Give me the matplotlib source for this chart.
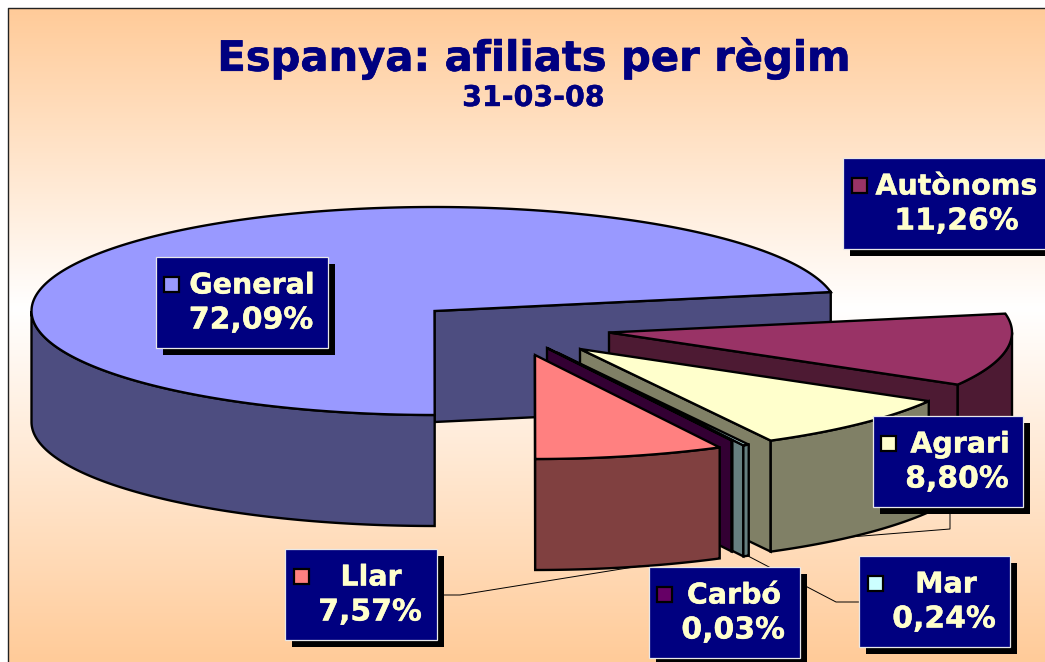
import numpy as np
import matplotlib
matplotlib.use('Agg')
import matplotlib.pyplot as plt
import matplotlib.patheffects as pe
from matplotlib.colors import LinearSegmentedColormap
from matplotlib.patches import Polygon, Rectangle

# slices in drawing order round the pie, starting from the right hand side
regims = ['General', 'Llar', 'Carbó', 'Mar', 'Agrari', 'Autònoms']
percents = [72.09, 7.57, 0.03, 0.24, 8.80, 11.26]
percent_labels = ['72,09%', '7,57%', '0,03%', '0,24%', '8,80%', '11,26%']

top_colors = ['#9999FF', '#FF8080', '#660066', '#CCFFFF', '#FFFFCC', '#993366']
side_colors = ['#4D4D80', '#804040', '#330033', '#668080', '#808066', '#4D1A33']

# how far each slice is pulled out of the pie, in pixels
explode = [(0, 0), (100.5, 44), (112.5, 37), (123.5, 42), (145.5, 38), (174.5, 21.5)]

start_angle = 10.5
cx, cy = 434.5, 311
rx, ry = 403, 104
depth = 111

# label box: left, top, right, bottom, name centre x, percent centre x
boxes = {
    'General': (155.5, 257, 328, 348, 252, 251),
    'Llar': (285, 549, 437, 640, 371, 370),
    'Carbó': (648.5, 567, 800, 658, 734, 733),
    'Mar': (859, 556, 1010, 647, 946, 944),
    'Agrari': (872.5, 416, 1023, 507, 960, 957),
    'Autònoms': (843, 158, 1046, 249, 956.5, 956.5),
}

leaders = [
    [(437, 595), (460, 595), (640, 566)],
    [(748, 556), (836, 602), (860, 602)],
    [(950, 510), (950, 529), (850, 537)],
]

NAVY = '#000080'
CREAM = '#FFFFCC'


def rim(a, ox, oy, dy=0):
    a = np.radians(a)
    return np.column_stack([cx + ox + rx * np.cos(a), cy + oy - ry * np.sin(a) + dy])


def draw_slice(ax, a1, a2, off, top, side):
    ox, oy = off
    apex = np.array([cx + ox, cy + oy])
    lower = np.array([0, depth])
    # cut faces, only the ones turned to the viewer
    for ang, normal in ((a1, a1 - 90), (a2, a2 + 90)):
        if np.sin(np.radians(normal)) < -1e-6:
            p = rim(np.array([ang]), ox, oy)[0]
            ax.add_patch(Polygon([apex, p, p + lower, apex + lower], closed=True,
                                 fc=side, ec='black', lw=1.7, joinstyle='miter'))
    # outer wall, front half of the ellipse only
    for lo, hi in ((180, 360), (540, 720)):
        b1, b2 = max(a1, lo), min(a2, hi)
        if b2 > b1:
            angs = np.linspace(b1, b2, 120)
            up = rim(angs, ox, oy)
            down = rim(angs[::-1], ox, oy, depth)
            ax.add_patch(Polygon(np.vstack([up, down]), closed=True,
                                 fc=side, ec='black', lw=1.7, joinstyle='miter'))
    angs = np.linspace(a1, a2, 240)
    pts = np.vstack([apex, rim(angs, ox, oy)])
    ax.add_patch(Polygon(pts, closed=True, fc=top, ec='black', lw=1.7, joinstyle='miter'))


def heavy(color, w=0.3):
    return [pe.withStroke(linewidth=w, foreground=color)]


fig = plt.figure(figsize=(10.45, 6.62), dpi=100)
ax = fig.add_axes([0, 0, 1, 1])
ax.axis('off')

cmap = LinearSegmentedColormap.from_list('bg', [(0, '#FFCB99'), (0.46, '#FFFFFF'), (1, '#FFCB99')])
grad = np.linspace(0, 1, 256).reshape(-1, 1)
ax.imshow(grad, cmap=cmap, extent=(7.5, 1045, 662, 8), aspect='auto', zorder=0)
ax.set_xlim(0, 1045)
ax.set_ylim(662, 0)
ax.plot([7.5, 7.5, 1045], [662, 8, 8], color='#222222', lw=1, zorder=1)

for line in leaders:
    xs, ys = zip(*line)
    ax.plot(xs, ys, color='black', lw=0.7, zorder=2)

angles = start_angle + np.cumsum([0] + percents) * 3.6
# back to front
for i in [0, 5, 4, 3, 2, 1]:
    draw_slice(ax, angles[i], angles[i + 1], explode[i], top_colors[i], side_colors[i])

for i, name in enumerate(regims):
    x0, y0, x1, y1, tx, px = boxes[name]
    ax.add_patch(Rectangle((x0 + 7, y0 + 7), x1 - x0, y1 - y0, fc='black', ec='none', zorder=5))
    ax.add_patch(Rectangle((x0, y0), x1 - x0, y1 - y0, fc=NAVY, ec='#E8E8E8', lw=0.9, zorder=6))
    ax.add_patch(Rectangle((x0 + 8.5, y0 + 19.5), 15, 15, fc=top_colors[i], ec='black', lw=1.6, zorder=7))
    ax.text(tx, y0 + 28.5, name, color=CREAM, fontsize=20.5, fontweight='bold',
            ha='center', va='center', zorder=7, path_effects=heavy(CREAM))
    ax.text(px, y0 + 63, percent_labels[i], color=CREAM, fontsize=21.5, fontweight='bold',
            ha='center', va='center', zorder=7, path_effects=heavy(CREAM))

ax.text(533.5, 58, 'Espanya: afiliats per règim', color=NAVY, fontsize=30, fontweight='bold',
        ha='center', va='center', path_effects=heavy(NAVY, 0.5))
ax.text(533.5, 98, '31-03-08', color=NAVY, fontsize=20.5, fontweight='bold',
        ha='center', va='center', path_effects=heavy(NAVY))

fig.savefig('out.png', dpi=100)
